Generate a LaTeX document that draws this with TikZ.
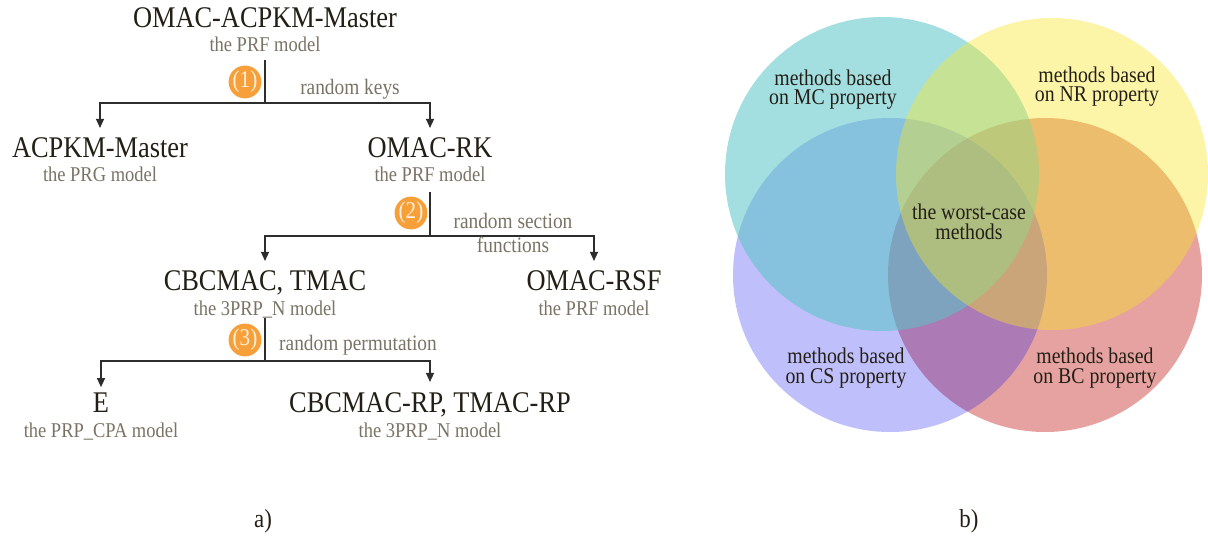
\documentclass[tikz,border=0pt]{standalone}
\usepackage{fontspec}
\setmainfont{Liberation Serif}[FakeStretch=0.88]
\usetikzlibrary{arrows.meta}

\definecolor{inkdark}{RGB}{35,31,22}
\definecolor{inkgray}{RGB}{122,115,101}
\definecolor{wire}{RGB}{45,45,45}
\definecolor{badgefill}{RGB}{247,160,58}
\definecolor{badgetext}{RGB}{255,240,220}
\definecolor{setMC}{RGB}{88,197,199}
\definecolor{setNR}{RGB}{248,230,35}
\definecolor{setCS}{RGB}{18,18,240}
\definecolor{setBC}{RGB}{230,162,160}

\begin{document}
\begin{tikzpicture}[x=1pt,y=-1pt,
  title/.style={anchor=base, inner sep=0pt, text=inkdark, font=\fontsize{30}{30}\selectfont},
  model/.style={anchor=base, inner sep=0pt, text=inkgray, font=\fontsize{21}{21}\selectfont},
  edgelabel/.style={inner sep=0pt, text=inkgray, font=\fontsize{22}{24}\selectfont},
  wireline/.style={draw=wire, line width=1.3pt},
  branch/.style={wireline, -{Triangle[length=9pt,width=8pt]}, shorten >=10pt},
  badge/.style={circle, fill=badgefill, minimum size=30pt, inner sep=0pt, text=badgetext, font=\fontsize{24}{24}\selectfont},
  vennlabel/.style={align=center, inner sep=0pt, text=inkdark, font=\fontsize{22.5}{19.5}\selectfont},
  caption/.style={anchor=base, inner sep=0pt, text=inkdark, font=\fontsize{26}{26}\selectfont}]

\useasboundingbox (0,0) rectangle (1208,537);

% ---- b) four overlapping property sets ----
\fill[setBC] (1045,275) circle[radius=157];
\fill[setCS, fill opacity=0.27] (890,275) circle[radius=157];
\fill[setMC, fill opacity=0.55] (882,174) circle[radius=157];
\fill[setNR, fill opacity=0.40] (1052,174) circle[radius=156];

\node[vennlabel] (mc) at (833,89.5) {methods based\\on MC property};
\node[vennlabel] (nr) at (1097,86.5) {methods based\\on NR property};
\node[vennlabel] (core) at (969,222) {the worst-case\\methods};
\node[vennlabel] (cs) at (846,368) {methods based\\on CS property};
\node[vennlabel] (bc) at (1095,368) {methods based\\on BC property};

% ---- a) model reduction tree ----
\node[title] (root)    at (265,28)  {OMAC-ACPKM-Master};
\node[model] (rootm)   at (265,52)  {the PRF model};
\node[title] (acpkm)   at (100,158) {ACPKM-Master};
\node[model] (acpkmm)  at (100,182) {the PRG model};
\node[title] (omacrk)  at (430,158) {OMAC-RK};
\node[model] (omacrkm) at (430,182) {the PRF model};
\node[title] (cbc)     at (265,291) {CBCMAC, TMAC};
\node[model] (cbcm)    at (265,316) {the 3PRP\_N model};
\node[title] (rsf)     at (594,291) {OMAC-RSF};
\node[model] (rsfm)    at (594,316) {the PRF model};
\node[title] (e)       at (101,412) {E};
\node[model] (em)      at (101,437) {the PRP\_CPA model};
\node[title] (rp)      at (430,412) {CBCMAC-RP, TMAC-RP};
\node[model] (rpm)     at (430,437) {the 3PRP\_N model};

\coordinate (j1) at (265,103);
\coordinate (j2) at (430,236);
\coordinate (j3) at (265,361);

\draw[wireline] ([yshift=-8pt]rootm.base) -- (j1);
\draw[branch] (j1) -| (acpkm.north);
\draw[branch] (j1) -| (omacrk.north);

\draw[wireline] ([yshift=-10pt]omacrkm.base) -- (j2);
\draw[branch] (j2) -| (cbc.north);
\draw[branch] (j2) -| (rsf.north);

\draw[wireline] ([yshift=-2pt]cbcm.base) -- (j3);
\draw[branch, shorten >=5pt] (j3) -| (e.north);
\draw[branch] (j3) -| (rp.north);

\node[badge] (b1) at (245,82)  {(1)};
\node[badge] (b2) at (411,213) {(2)};
\node[badge] (b3) at (245,340) {(3)};

\node[edgelabel, anchor=base] (l1) at (350,95) {random keys};
\node[edgelabel, align=center] (l2) at (513,232.5) {random section\\functions};
\node[edgelabel, anchor=base] (l3) at (358,351) {random permutation};

\node[caption] (capa) at (263,527) {a)};
\node[caption] (capb) at (969,527) {b)};
\end{tikzpicture}
\end{document}
